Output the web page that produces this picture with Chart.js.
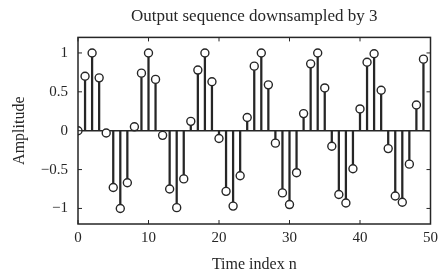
<!DOCTYPE html>
<html>
<head>
<meta charset="utf-8">
<script src="https://cdn.jsdelivr.net/npm/chart.js@4"></script>
<style>
  body { margin: 0; background: #fff; }
  canvas { display: block; }
</style>
</head>
<body>
<canvas id="stemChart" width="443" height="274"></canvas>
<script>
// Datos
const timeIndex = [0, 1, 2, 3, 4, 5, 6, 7, 8, 9,
    10, 11, 12, 13, 14, 15, 16, 17, 18, 19,
    20, 21, 22, 23, 24, 25, 26, 27, 28, 29,
    30, 31, 32, 33, 34, 35, 36, 37, 38, 39,
    40, 41, 42, 43, 44, 45, 46, 47, 48, 49];
const amplitude = [0, 0.70, 1.00, 0.68, -0.03, -0.73, -1.00, -0.67, 0.05, 0.74,
    1.00, 0.66, -0.06, -0.75, -0.99, -0.62, 0.12, 0.78, 1.00, 0.63,
    -0.10, -0.78, -0.97, -0.58, 0.17, 0.83, 1.00, 0.59, -0.16, -0.80,
    -0.95, -0.54, 0.22, 0.86, 1.00, 0.55, -0.20, -0.82, -0.93, -0.49,
    0.28, 0.88, 0.99, 0.52, -0.23, -0.84, -0.92, -0.43, 0.33, 0.92];
const xTicks = [0, 10, 20, 30, 40, 50];
const yTicks = [-1, -0.5, 0, 0.5, 1];

const ink = '#262626';
const serif = 'Liberation Serif';

const points = timeIndex.map((n, i) => ({ x: n, y: amplitude[i] }));

// Marco y marcas hacia dentro
const frame = {
    id: 'frame',
    afterDatasetsDraw(chart) {
        const { ctx, chartArea: a, scales } = chart;
        ctx.save();
        ctx.strokeStyle = ink;
        ctx.lineWidth = 1.5;
        ctx.strokeRect(a.left, a.top, a.right - a.left, a.bottom - a.top);
        ctx.lineWidth = 1;
        ctx.beginPath();
        scales.x.ticks.forEach(t => {
            const px = scales.x.getPixelForValue(t.value);
            ctx.moveTo(px, a.bottom); ctx.lineTo(px, a.bottom - 4);
            ctx.moveTo(px, a.top); ctx.lineTo(px, a.top + 4);
        });
        scales.y.ticks.forEach(t => {
            const py = scales.y.getPixelForValue(t.value);
            ctx.moveTo(a.left, py); ctx.lineTo(a.left + 4, py);
            ctx.moveTo(a.right, py); ctx.lineTo(a.right - 4, py);
        });
        ctx.stroke();
        ctx.restore();
    }
};

new Chart(document.getElementById('stemChart'), {
    type: 'bar',
    data: {
        datasets: [{
            type: 'scatter',
            data: points,
            pointRadius: 4,
            pointBorderWidth: 1.4,
            pointBorderColor: ink,
            pointBackgroundColor: '#fff',
            order: 0
        }, {
            type: 'bar',
            data: points,
            backgroundColor: ink,
            barThickness: 1.6,
            order: 1
        }]
    },
    options: {
        responsive: false,
        animation: false,
        layout: { padding: { left: 0, right: 10, top: 0, bottom: 0 } },
        plugins: {
            legend: { display: false },
            tooltip: { enabled: false },
            title: {
                display: true,
                text: 'Output sequence downsampled by 3',
                fullSize: false,
                color: ink,
                font: { family: serif, size: 17, weight: 'normal' },
                padding: { top: 6, bottom: 11 }
            }
        },
        scales: {
            x: {
                type: 'linear',
                min: 0,
                max: 50,
                offset: false,
                afterBuildTicks: s => { s.ticks = xTicks.map(v => ({ value: v })); },
                afterFit: s => { s.height = 50; },
                grid: { display: false, drawTicks: false },
                border: { display: false },
                ticks: { color: ink, font: { family: serif, size: 15 }, padding: 5, maxRotation: 0 },
                title: {
                    display: true,
                    text: 'Time index n',
                    color: ink,
                    font: { family: serif, size: 16 },
                    padding: { top: 0, bottom: 0 }
                }
            },
            y: {
                min: -1.2,
                max: 1.2,
                afterBuildTicks: s => { s.ticks = yTicks.map(v => ({ value: v })); },
                afterFit: s => { s.width = 78; },
                grid: {
                    drawTicks: false,
                    color: ctx => ctx.tick && ctx.tick.value === 0 ? ink : 'rgba(0,0,0,0)',
                    lineWidth: 1.5
                },
                border: { display: false },
                ticks: {
                    color: ink,
                    font: { family: serif, size: 15 },
                    padding: 10,
                    callback: v => String(v).replace('-', '\u2212')
                },
                title: {
                    display: true,
                    text: 'Amplitude',
                    color: ink,
                    font: { family: serif, size: 16 },
                    padding: { top: 10, bottom: 0 }
                }
            }
        }
    },
    plugins: [frame]
});
</script>
</body>
</html>
